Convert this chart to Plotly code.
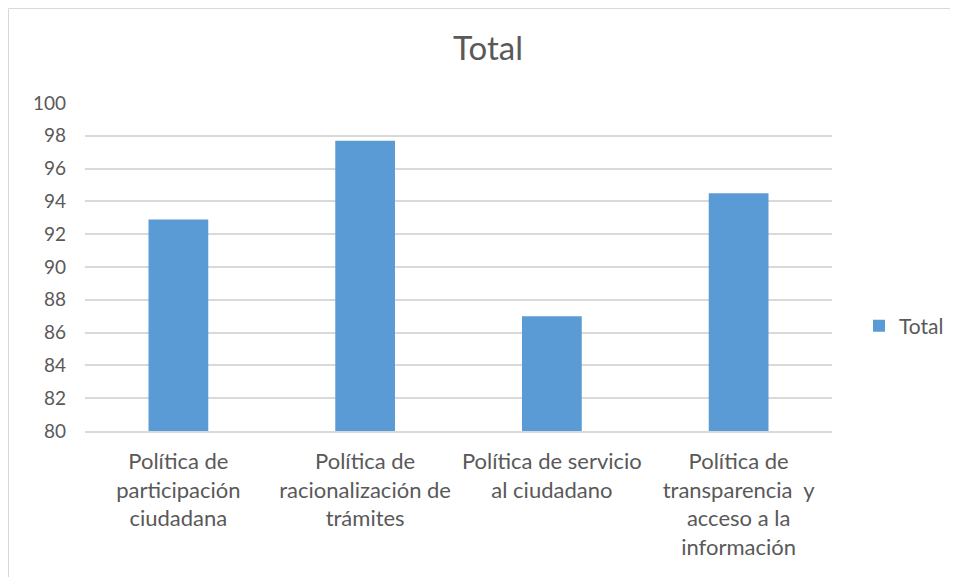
import plotly.graph_objects as go

categories = [
    "Política de<br>participación<br>ciudadana",
    "Política de<br>racionalización de<br>trámites",
    "Política de servicio<br>al ciudadano",
    "Política de<br>transparencia  y<br>acceso a la<br>información",
]
values = [92.9, 97.7, 87.0, 94.5]
series_name = "Total"
y_ticks = [80, 82, 84, 86, 88, 90, 92, 94, 96, 98, 100]

FONT = "Lato"
TXT = "#595959"
GRID = "#d9d9d9"

fig = go.Figure()
fig.add_trace(go.Bar(
    x=categories, y=values, name=series_name,
    marker=dict(color="#5b9bd5", line=dict(width=0)),
    showlegend=True,
))

# page body has an 8px margin; figure sized to fit the 958x577 window
W, H = 950, 569
ml, mr, mt, mb = 77, 126, 95, 146
pw, ph = W - ml - mr, H - mt - mb

fig.update_layout(
    width=W, height=H,
    margin=dict(l=ml, r=mr, t=mt, b=mb, autoexpand=False),
    paper_bgcolor="white", plot_bgcolor="white",
    font=dict(family=FONT, color=TXT, size=19),
    title=dict(text="Total", x=480 / W, xanchor="center", y=1 - 40 / H, yanchor="middle",
               font=dict(family=FONT, size=33, color=TXT)),
    bargap=0.68,
    showlegend=True,
    legend=dict(x=(851 - ml) / pw, xanchor="left", y=(H - mb - 318) / ph, yanchor="middle",
                font=dict(family=FONT, size=21, color=TXT), bgcolor="rgba(0,0,0,0)",
                itemwidth=30),
    xaxis=dict(showgrid=False, showline=True, linecolor=GRID, linewidth=1.5,
               ticks="", tickfont=dict(family=FONT, size=22, color=TXT),
               ticklabelstandoff=10, fixedrange=True),
    yaxis=dict(range=[80, 100], tickvals=y_ticks, showgrid=True, gridcolor=GRID, gridwidth=1.5,
               zeroline=False, showline=False, ticks="",
               tickfont=dict(family=FONT, size=19, color=TXT),
               ticklabelstandoff=18, fixedrange=True),
    shapes=[dict(type="rect", xref="paper", yref="paper",
                 x0=(0.5 - ml) / pw, x1=(W + 20 - ml) / pw,
                 y0=-(mb + 20) / ph, y1=1 + (mt - 0.5) / ph,
                 line=dict(color=GRID, width=1), fillcolor="rgba(0,0,0,0)", layer="below")],
)

fig.write_html("out.html")
